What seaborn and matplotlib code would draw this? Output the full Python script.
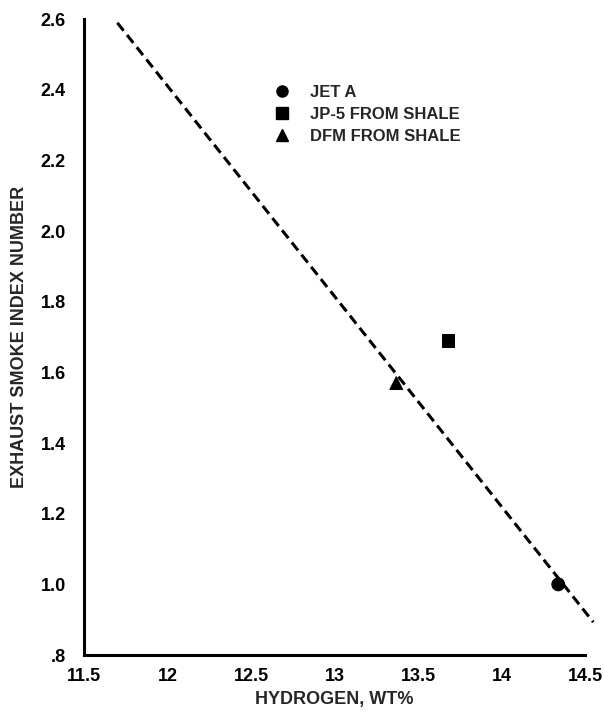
import matplotlib
matplotlib.use("Agg")
import matplotlib.pyplot as plt
from matplotlib.lines import Line2D
import seaborn as sns
import pandas as pd

# Fuel data: hydrogen content vs exhaust smoke index
fuels = ["JET A", "JP-5 FROM SHALE", "DFM FROM SHALE"]
hydrogen = [14.34, 13.68, 13.37]
smoke_index = [1.00, 1.69, 1.57]
markers = ["o", "s", "^"]

# Correlation line end points
fit_hydrogen = [11.70, 14.55]
fit_smoke = [2.59, 0.893]

x_ticks = [11.5, 12, 12.5, 13, 13.5, 14, 14.5]
x_tick_labels = ["11.5", "12", "12.5", "13", "13.5", "14", "14.5"]
y_ticks = [0.8, 1.0, 1.2, 1.4, 1.6, 1.8, 2.0, 2.2, 2.4, 2.6]
y_tick_labels = [".8", "1.0", "1.2", "1.4", "1.6", "1.8", "2.0", "2.2", "2.4", "2.6"]

sns.set_style("white")
plt.rcParams["font.family"] = ["Liberation Sans", "DejaVu Sans"]

df = pd.DataFrame({"fuel": fuels, "hydrogen": hydrogen, "smoke": smoke_index})
fit_df = pd.DataFrame({"hydrogen": fit_hydrogen, "smoke": fit_smoke})

fig = plt.figure(figsize=(6.04, 7.14), dpi=100)
ax = fig.add_axes([0.139, 0.0826, 0.8295, 0.8904])

sns.lineplot(data=fit_df, x="hydrogen", y="smoke", ax=ax, color="black",
             linewidth=2.2, linestyle=(0, (3.3, 1.8)), clip_on=False)
sns.scatterplot(data=df, x="hydrogen", y="smoke", style="fuel",
                markers=dict(zip(fuels, markers)), color="black", s=85,
                edgecolor="black", ax=ax, legend=False, zorder=3, clip_on=False)

ax.set_xlim(11.5, 14.5)
ax.set_ylim(0.8, 2.6)
ax.set_xticks(x_ticks)
ax.set_xticklabels(x_tick_labels)
ax.set_yticks(y_ticks)
ax.set_yticklabels(y_tick_labels)

for side in ["top", "right"]:
    ax.spines[side].set_visible(False)
for side in ["left", "bottom"]:
    ax.spines[side].set_linewidth(2.2)
    ax.spines[side].set_color("black")
    ax.spines[side].set_capstyle("projecting")

ax.tick_params(axis="both", direction="in", length=6, width=2.4, colors="black",
               labelsize=13)
ax.tick_params(axis="y", pad=13)
ax.tick_params(axis="x", pad=9)
for lbl in ax.get_xticklabels() + ax.get_yticklabels():
    lbl.set_fontweight("bold")

ax.set_xlabel("HYDROGEN, WT%", fontsize=13, fontweight="bold", labelpad=5)
ax.set_ylabel("EXHAUST SMOKE INDEX NUMBER", fontsize=13, fontweight="bold", labelpad=9)

handles = [Line2D([], [], linestyle="none", marker=m, color="black", markersize=8)
           for m in markers]
ax.legend(handles, fuels, loc="upper left", bbox_to_anchor=(0.349, 0.92),
          frameon=False, handletextpad=1.2, labelspacing=0.42, handlelength=1.0,
          borderpad=0.4, prop={"weight": "bold", "size": 12})

fig.savefig("out.png", dpi=100)
